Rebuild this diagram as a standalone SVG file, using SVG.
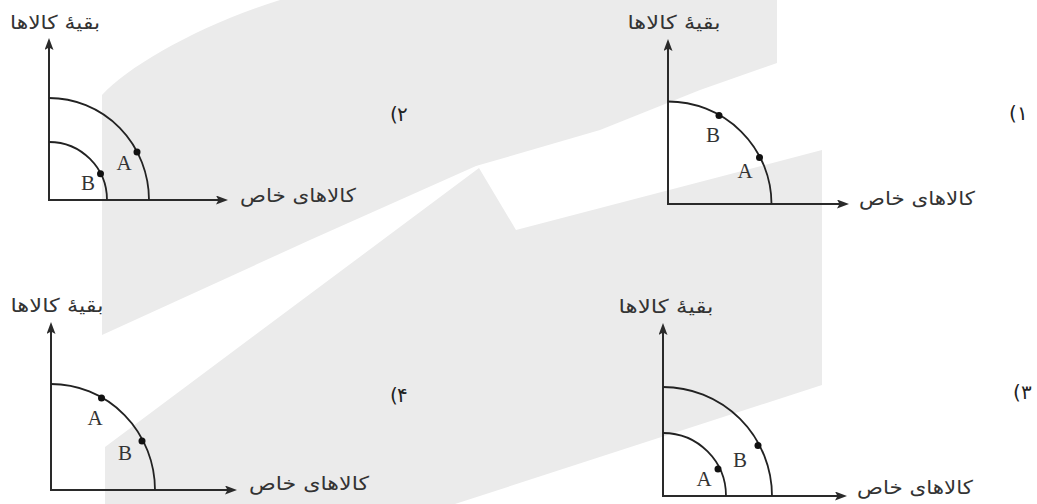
<svg xmlns="http://www.w3.org/2000/svg" width="1037" height="504" viewBox="0 0 1037 504">
<style>
.wm{fill:#ebebeb;stroke:none}
.ax{stroke:#2a2a2a;stroke-width:2;fill:none}
.cv{stroke:#222;stroke-width:1.8;fill:none}
.dot{fill:#111}
.pt{font-family:'Liberation Serif',serif;font-size:21px;fill:#333;text-anchor:middle}
.fa{font-family:'DejaVu Sans','Noto Sans',sans-serif;font-size:19px;fill:#333;text-anchor:middle}
.num{font-family:'DejaVu Sans','Noto Sans',sans-serif;font-size:20px;fill:#222;direction:ltr}
</style>
<defs>
<marker id="ah" viewBox="0 0 12 9" refX="5" refY="4.5" markerWidth="12" markerHeight="9" markerUnits="userSpaceOnUse" orient="auto">
<path d="M0,0 L12,4.5 L0,9 L2.5,4.5 Z" fill="#2a2a2a"/>
</marker>
</defs>
<rect width="1037" height="504" fill="#ffffff"/>
<g id="watermark">
<path class="wm" d="M102,95 C130,65 200,25 280,0 L777,0 L777,63 L700,90 L600,130 L476,166 L310,240 L102,335 Z"/>
<path class="wm" d="M105,447 L105,504 L455,504 L822,385 L822,150 L516,230 L479,168 Z"/>
</g>
<g id="connectors">
<line class="ax" x1="49" y1="201" x2="49" y2="45" marker-end="url(#ah)"/>
<line class="ax" x1="48" y1="200" x2="221" y2="200" marker-end="url(#ah)"/>
<line class="ax" x1="668" y1="205" x2="668" y2="46" marker-end="url(#ah)"/>
<line class="ax" x1="667" y1="204" x2="842" y2="204" marker-end="url(#ah)"/>
<line class="ax" x1="51" y1="491" x2="51" y2="329" marker-end="url(#ah)"/>
<line class="ax" x1="50" y1="490" x2="230" y2="490" marker-end="url(#ah)"/>
<line class="ax" x1="663" y1="497" x2="663" y2="330" marker-end="url(#ah)"/>
<line class="ax" x1="662" y1="496" x2="840" y2="496" marker-end="url(#ah)"/>
</g>
<g id="graph2">
<path class="cv" d="M49,98 A100,102 0 0 1 149,200"/>
<path class="cv" d="M49,142 A58,58 0 0 1 107,200"/>
<circle class="dot" cx="137" cy="152" r="3.5"/>
<circle class="dot" cx="100.5" cy="173.7" r="3.5"/>
<text class="pt" x="124" y="170">A</text>
<text class="pt" x="88" y="190">B</text>
<text class="fa" x="55" y="29" textLength="90" lengthAdjust="spacingAndGlyphs">بقیهٔ کالاها</text>
<text class="fa" x="298" y="202" textLength="116" lengthAdjust="spacingAndGlyphs">کالاهای خاص</text>
<text class="num" x="390" y="121">(</text>
<text class="num" x="397" y="121">۲</text>
</g>
<g id="graph1">
<path class="cv" d="M668,101.5 A103.5,102.5 0 0 1 771.5,204"/>
<circle class="dot" cx="719" cy="115.5" r="3.5"/>
<circle class="dot" cx="759.5" cy="157.5" r="3.5"/>
<text class="pt" x="713" y="142">B</text>
<text class="pt" x="745" y="178">A</text>
<text class="fa" x="674" y="29" textLength="93" lengthAdjust="spacingAndGlyphs">بقیهٔ کالاها</text>
<text class="fa" x="917" y="205" textLength="116" lengthAdjust="spacingAndGlyphs">کالاهای خاص</text>
<text class="num" x="1009" y="120">(</text>
<text class="num" x="1017" y="120">۱</text>
</g>
<g id="graph4">
<path class="cv" d="M51,384 A104,106 0 0 1 155,490"/>
<circle class="dot" cx="101.5" cy="398" r="3.5"/>
<circle class="dot" cx="142" cy="441" r="3.5"/>
<text class="pt" x="95" y="425">A</text>
<text class="pt" x="125" y="460">B</text>
<text class="fa" x="57" y="312" textLength="93" lengthAdjust="spacingAndGlyphs">بقیهٔ کالاها</text>
<text class="fa" x="309" y="490" textLength="120" lengthAdjust="spacingAndGlyphs">کالاهای خاص</text>
<text class="num" x="390" y="402">(</text>
<text class="num" x="397" y="402">۴</text>
</g>
<g id="graph3">
<path class="cv" d="M663,387 A109,109 0 0 1 772,496"/>
<path class="cv" d="M663,433 A63,63 0 0 1 726,496"/>
<circle class="dot" cx="758" cy="445.5" r="3.5"/>
<circle class="dot" cx="718" cy="469" r="3.5"/>
<text class="pt" x="740" y="467">B</text>
<text class="pt" x="704" y="486">A</text>
<text class="fa" x="666" y="313" textLength="95" lengthAdjust="spacingAndGlyphs">بقیهٔ کالاها</text>
<text class="fa" x="915" y="494" textLength="116" lengthAdjust="spacingAndGlyphs">کالاهای خاص</text>
<text class="num" x="1013" y="399">(</text>
<text class="num" x="1021" y="399">۳</text>
</g>
</svg>
